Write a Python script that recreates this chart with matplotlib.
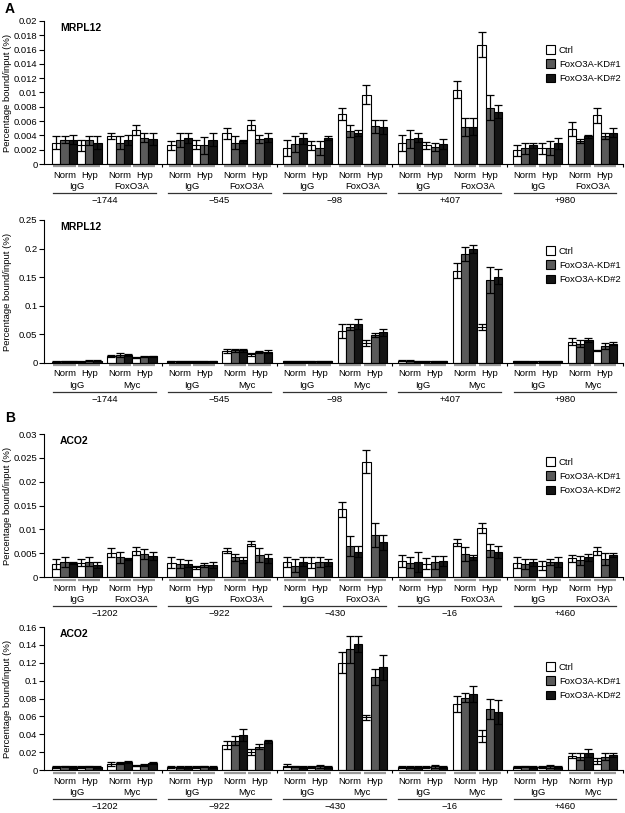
import matplotlib
matplotlib.use("Agg")
import matplotlib.pyplot as plt
import matplotlib.transforms as mtransforms
from matplotlib.patches import Patch
import numpy as np

plt.rcParams['font.family'] = ['Liberation Sans', 'DejaVu Sans']

series_names = ["Ctrl", "FoxO3A-KD#1", "FoxO3A-KD#2"]
conditions = ["Norm", "Hyp"]

# ---- Panel A top: MRPL12, FoxO3A ChIP ----
a1_sites = ["\u22121744", "\u2212545", "\u221298", "+407", "+980"]
a1_abs = ["IgG", "FoxO3A"]
a1_ctrl = [0.0030, 0.0026, 0.0039, 0.0047, 0.0026, 0.0027, 0.0043, 0.0054, 0.0022, 0.0026, 0.0070, 0.0097,
           0.0029, 0.0026, 0.0104, 0.0167, 0.0019, 0.0022, 0.0049, 0.0068]
a1_ctrl_err = [0.0009, 0.0008, 0.0004, 0.0007, 0.0006, 0.0006, 0.0008, 0.0007, 0.0011, 0.0006, 0.0009, 0.0013,
               0.0011, 0.0005, 0.0012, 0.0017, 0.0008, 0.0008, 0.0010, 0.0010]
a1_kd1 = [0.0034, 0.0033, 0.0030, 0.0037, 0.0034, 0.0026, 0.0030, 0.0035, 0.0028, 0.0022, 0.0046, 0.0053,
          0.0035, 0.0024, 0.0052, 0.0079, 0.0022, 0.0022, 0.0032, 0.0039]
a1_kd1_err = [0.0005, 0.0006, 0.0009, 0.0006, 0.0010, 0.0012, 0.0009, 0.0006, 0.0011, 0.0010, 0.0008, 0.0009,
              0.0012, 0.0006, 0.0013, 0.0017, 0.0008, 0.0010, 0.0003, 0.0004]
a1_kd2 = [0.0034, 0.0030, 0.0033, 0.0035, 0.0036, 0.0034, 0.0032, 0.0037, 0.0036, 0.0036, 0.0043, 0.0052,
          0.0037, 0.0028, 0.0052, 0.0073, 0.0026, 0.0029, 0.0039, 0.0044]
a1_kd2_err = [0.0006, 0.0009, 0.0007, 0.0008, 0.0007, 0.0009, 0.0002, 0.0006, 0.0008, 0.0003, 0.0004, 0.0010,
              0.0006, 0.0007, 0.0012, 0.0009, 0.0004, 0.0008, 0.0002, 0.0006]
a1_yticks = [0, 0.002, 0.004, 0.006, 0.008, 0.01, 0.012, 0.014, 0.016, 0.018, 0.02]
a1_yticklabels = ["0", "0.002", "0.004", "0.006", "0.008", "0.01", "0.012", "0.014", "0.016", "0.018", "0.02"]

# ---- Panel A bottom: MRPL12, Myc ChIP ----
a2_sites = ["\u22121744", "\u2212545", "\u221298", "+407", "+980"]
a2_abs = ["IgG", "Myc"]
a2_ctrl = [0.002, 0.002, 0.012, 0.009, 0.003, 0.003, 0.021, 0.015, 0.003, 0.003, 0.056, 0.035,
           0.004, 0.003, 0.161, 0.063, 0.003, 0.003, 0.037, 0.022]
a2_ctrl_err = [0.001, 0.001, 0.002, 0.001, 0.001, 0.001, 0.003, 0.002, 0.001, 0.001, 0.013, 0.005,
               0.001, 0.001, 0.013, 0.006, 0.001, 0.001, 0.006, 0.001]
a2_kd1 = [0.003, 0.004, 0.014, 0.011, 0.003, 0.003, 0.022, 0.019, 0.003, 0.003, 0.063, 0.049,
          0.004, 0.003, 0.190, 0.145, 0.003, 0.003, 0.034, 0.030]
a2_kd1_err = [0.001, 0.001, 0.003, 0.001, 0.001, 0.001, 0.003, 0.002, 0.001, 0.001, 0.006, 0.004,
              0.001, 0.001, 0.012, 0.023, 0.001, 0.001, 0.006, 0.005]
a2_kd2 = [0.003, 0.004, 0.014, 0.012, 0.003, 0.003, 0.022, 0.020, 0.003, 0.003, 0.068, 0.054,
          0.003, 0.003, 0.199, 0.151, 0.002, 0.003, 0.040, 0.034]
a2_kd2_err = [0.001, 0.001, 0.002, 0.001, 0.001, 0.001, 0.002, 0.002, 0.001, 0.001, 0.009, 0.006,
              0.001, 0.001, 0.007, 0.013, 0.001, 0.001, 0.004, 0.003]
a2_yticks = [0, 0.05, 0.1, 0.15, 0.2, 0.25]
a2_yticklabels = ["0", "0.05", "0.1", "0.15", "0.2", "0.25"]

# ---- Panel B top: ACO2, FoxO3A ChIP ----
b1_sites = ["\u22121202", "\u2212922", "\u2212430", "\u221216", "+460"]
b1_abs = ["IgG", "FoxO3A"]
b1_ctrl = [0.0027, 0.0030, 0.0051, 0.0055, 0.0030, 0.0020, 0.0055, 0.0070, 0.0031, 0.0030, 0.0142, 0.0242,
           0.0034, 0.0028, 0.0072, 0.0103, 0.0030, 0.0024, 0.0039, 0.0055]
b1_ctrl_err = [0.0010, 0.0007, 0.0009, 0.0008, 0.0012, 0.0004, 0.0005, 0.0006, 0.0011, 0.0012, 0.0016, 0.0024,
               0.0012, 0.0011, 0.0007, 0.0011, 0.0011, 0.0010, 0.0007, 0.0008]
b1_kd1 = [0.0031, 0.0032, 0.0041, 0.0048, 0.0028, 0.0025, 0.0041, 0.0046, 0.0024, 0.0031, 0.0065, 0.0088,
          0.0030, 0.0031, 0.0048, 0.0056, 0.0027, 0.0031, 0.0035, 0.0038]
b1_kd1_err = [0.0011, 0.0009, 0.0011, 0.0010, 0.0009, 0.0005, 0.0007, 0.0014, 0.0014, 0.0010, 0.0021, 0.0026,
              0.0011, 0.0014, 0.0014, 0.0013, 0.0010, 0.0006, 0.0009, 0.0013]
b1_kd2 = [0.0030, 0.0025, 0.0037, 0.0044, 0.0028, 0.0025, 0.0035, 0.0039, 0.0032, 0.0031, 0.0053, 0.0073,
          0.0031, 0.0034, 0.0041, 0.0052, 0.0031, 0.0031, 0.0041, 0.0046]
b1_kd2_err = [0.0002, 0.0007, 0.0002, 0.0008, 0.0007, 0.0007, 0.0006, 0.0010, 0.0009, 0.0007, 0.0012, 0.0016,
              0.0021, 0.0011, 0.0005, 0.0013, 0.0007, 0.0011, 0.0008, 0.0005]
b1_yticks = [0, 0.005, 0.01, 0.015, 0.02, 0.025, 0.03]
b1_yticklabels = ["0", "0.005", "0.01", "0.015", "0.02", "0.025", "0.03"]

# ---- Panel B bottom: ACO2, Myc ChIP ----
b2_sites = ["\u22121202", "\u2212922", "\u2212430", "\u221216", "+460"]
b2_abs = ["IgG", "Myc"]
b2_ctrl = [0.003, 0.003, 0.007, 0.005, 0.003, 0.003, 0.028, 0.020, 0.005, 0.003, 0.120, 0.059,
           0.003, 0.003, 0.074, 0.038, 0.003, 0.003, 0.016, 0.010]
b2_ctrl_err = [0.001, 0.001, 0.002, 0.001, 0.001, 0.001, 0.005, 0.003, 0.002, 0.001, 0.012, 0.003,
               0.001, 0.001, 0.009, 0.007, 0.001, 0.001, 0.003, 0.003]
b2_kd1 = [0.004, 0.004, 0.0075, 0.006, 0.003, 0.004, 0.033, 0.026, 0.004, 0.004, 0.135, 0.104,
          0.003, 0.004, 0.081, 0.068, 0.004, 0.004, 0.015, 0.015]
b2_kd1_err = [0.001, 0.001, 0.001, 0.001, 0.001, 0.001, 0.005, 0.003, 0.001, 0.002, 0.015, 0.009,
              0.001, 0.002, 0.005, 0.011, 0.001, 0.002, 0.004, 0.004]
b2_kd2 = [0.003, 0.003, 0.009, 0.0074, 0.003, 0.003, 0.039, 0.032, 0.003, 0.003, 0.141, 0.115,
          0.003, 0.003, 0.085, 0.065, 0.003, 0.003, 0.019, 0.017]
b2_kd2_err = [0.001, 0.001, 0.001, 0.001, 0.001, 0.001, 0.007, 0.002, 0.001, 0.001, 0.009, 0.014,
              0.001, 0.001, 0.009, 0.013, 0.001, 0.001, 0.004, 0.002]
b2_yticks = [0, 0.02, 0.04, 0.06, 0.08, 0.1, 0.12, 0.14, 0.16]
b2_yticklabels = ["0", "0.02", "0.04", "0.06", "0.08", "0.1", "0.12", "0.14", "0.16"]

colors = ["white", "#5a5a5a", "#151515"]
FS = 6.8

W, H = 625, 813
fig = plt.figure(figsize=(W / 100, H / 100), dpi=100)

AX_LEFT, AX_RIGHT, AX_H = 44, 623, 143
SITE_PITCH = 14.0
GROUP_OFF = [0.0, 3.0, 6.7, 9.7]


def px_axes(top):
    return fig.add_axes([AX_LEFT / W, 1 - (top + AX_H) / H, (AX_RIGHT - AX_LEFT) / W, AX_H / H])


def draw_panel(top, title, sites, abs_, series, errs, yticks, yticklabels, legend_dy):
    ax = px_axes(top)
    trans = mtransforms.blended_transform_factory(ax.transData, ax.transAxes)
    n_sites = len(sites)
    for si in range(n_sites):
        base = si * SITE_PITCH
        for gi in range(4):
            idx = si * 4 + gi
            g0 = base + GROUP_OFF[gi]
            for k in range(3):
                x = g0 + k + 0.5
                ax.bar(x, series[k][idx], width=1.0, color=colors[k], edgecolor="black",
                       linewidth=0.8, zorder=2)
                ax.errorbar(x, series[k][idx], yerr=errs[k][idx], fmt="none", ecolor="black",
                            elinewidth=0.9, capsize=3, capthick=0.9, zorder=3)
            ax.plot([g0 + 0.15, g0 + 2.85], [-2.5 / AX_H] * 2, transform=trans, color="#9a9a9a",
                    lw=1.6, clip_on=False, solid_capstyle="butt")
            ax.text(g0 + 1.5, -11 / AX_H, conditions[gi % 2], transform=trans, ha="center",
                    va="center", fontsize=FS)
        for ai in range(2):
            cx = base + (GROUP_OFF[2 * ai] + GROUP_OFF[2 * ai + 1] + 3) / 2
            ax.text(cx, -22.5 / AX_H, abs_[ai], transform=trans, ha="center", va="center", fontsize=FS)
        ax.plot([base + 0.1, base + GROUP_OFF[3] + 2.9], [-29 / AX_H] * 2, transform=trans,
                color="#333333", lw=0.9, clip_on=False)
        ax.text(base + (GROUP_OFF[3] + 3) / 2, -36.5 / AX_H, sites[si], transform=trans, ha="center",
                va="center", fontsize=FS)
    xmin = -1.0
    xmax = (n_sites - 1) * SITE_PITCH + GROUP_OFF[3] + 3 + 0.7
    ax.set_xlim(xmin, xmax)
    ax.set_ylim(yticks[0], yticks[-1])
    xt = [s * SITE_PITCH - 0.65 for s in range(1, n_sites)] + [xmax]
    ax.set_xticks(xt)
    ax.set_xticklabels([])
    ax.tick_params(axis="x", length=2.5, width=0.8, direction="out")
    ax.set_yticks(yticks)
    ax.set_yticklabels(yticklabels)
    ax.tick_params(axis="y", length=3.5, width=0.8, labelsize=FS, pad=1.2)
    for sp in ["top", "right"]:
        ax.spines[sp].set_visible(False)
    ax.spines["left"].set_linewidth(0.8)
    ax.spines["bottom"].set_linewidth(0.8)
    ax.text(16 / (AX_RIGHT - AX_LEFT), 1 - 7 / AX_H, title, transform=ax.transAxes, fontsize=7.5,
            fontweight="bold", ha="left", va="center")
    handles = [Patch(facecolor=c, edgecolor="black", linewidth=0.8) for c in colors]
    ax.legend(handles, series_names, loc="upper left",
              bbox_to_anchor=((546 - AX_LEFT) / (AX_RIGHT - AX_LEFT), 1 - legend_dy / AX_H),
              frameon=False, fontsize=FS, handlelength=0.95, handleheight=1.05, handletextpad=0.4,
              labelspacing=0.5, borderpad=0, borderaxespad=0)
    fig.text(8 / W, 1 - (top + AX_H / 2) / H, "Percentage bound/input (%)", rotation=90,
             ha="center", va="center", fontsize=FS)
    return ax


draw_panel(21, "MRPL12", a1_sites, a1_abs, [a1_ctrl, a1_kd1, a1_kd2],
           [a1_ctrl_err, a1_kd1_err, a1_kd2_err], a1_yticks, a1_yticklabels, 24)
draw_panel(220, "MRPL12", a2_sites, a2_abs, [a2_ctrl, a2_kd1, a2_kd2],
           [a2_ctrl_err, a2_kd1_err, a2_kd2_err], a2_yticks, a2_yticklabels, 26)
draw_panel(434, "ACO2", b1_sites, b1_abs, [b1_ctrl, b1_kd1, b1_kd2],
           [b1_ctrl_err, b1_kd1_err, b1_kd2_err], b1_yticks, b1_yticklabels, 23)
draw_panel(627, "ACO2", b2_sites, b2_abs, [b2_ctrl, b2_kd1, b2_kd2],
           [b2_ctrl_err, b2_kd1_err, b2_kd2_err], b2_yticks, b2_yticklabels, 35)

fig.text(5 / W, 1 - 9 / H, "A", fontsize=10, fontweight="bold", ha="left", va="center")
fig.text(5 / W, 1 - 418 / H, "B", fontsize=10, fontweight="bold", ha="left", va="center")

fig.savefig("out.png", dpi=100)
